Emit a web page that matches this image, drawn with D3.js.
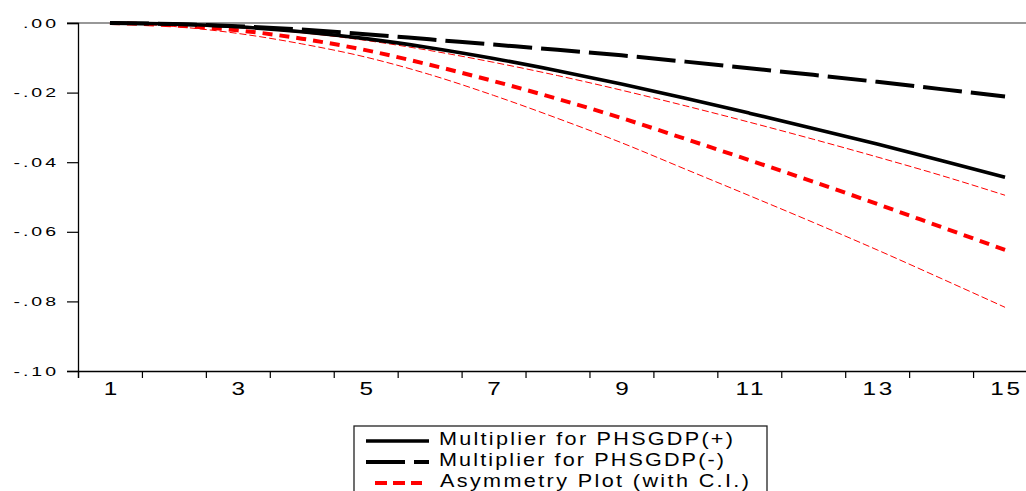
<!DOCTYPE html>
<html>
<head>
<meta charset="utf-8">
<script src="https://cdn.jsdelivr.net/npm/d3@7"></script>
<style>
  html, body { margin: 0; padding: 0; background: #fff; overflow: hidden; }
  svg { display: block; }
  text { font-family: "Liberation Sans", Arial, sans-serif; fill: #000; }
</style>
</head>
<body>
<svg id="chart" width="1026" height="491"></svg>
<script>
// ---- data ----
const periods = [1,2,3,4,5,6,7,8,9,10,11,12,13,14,15];
const multPos = [0, -0.0003, -0.0011, -0.0025, -0.0045, -0.0071, -0.0102, -0.0137, -0.0175, -0.0216, -0.0259, -0.0303, -0.0348, -0.0395, -0.0443];
const multNeg = [0, -0.0003, -0.0009, -0.0019, -0.0032, -0.0047, -0.0062, -0.0077, -0.0093, -0.0111, -0.0130, -0.0149, -0.0169, -0.0190, -0.0211];
const asym    = [0, -0.0007, -0.0021, -0.0045, -0.0078, -0.0120, -0.0167, -0.0218, -0.0273, -0.0333, -0.0394, -0.0456, -0.0520, -0.0586, -0.0652];
const ciUpper = [0, -0.0004, -0.0013, -0.0028, -0.0050, -0.0079, -0.0113, -0.0151, -0.0193, -0.0238, -0.0285, -0.0334, -0.0385, -0.0438, -0.0495];
const ciLower = [0, -0.0010, -0.0030, -0.0060, -0.0098, -0.0148, -0.0208, -0.0274, -0.0344, -0.0420, -0.0496, -0.0573, -0.0652, -0.0734, -0.0817];
const yTicks = [0, -0.02, -0.04, -0.06, -0.08, -0.10];
const yTickLabels = [".00", "-.02", "-.04", "-.06", "-.08", "-.10"];
const xTickLabels = [1, 3, 5, 7, 9, 11, 13, 15];
const legendLabels = ["Multiplier for PHSGDP(+)", "Multiplier for PHSGDP(-)", "Asymmetry Plot (with C.I.)"];

// ---- layout ----
const svg = d3.select("#chart");
const plotLeft = 78, plotTop = 23, plotBottom = 371, plotRightEnd = 1037;
const x = d3.scaleLinear().domain([0.5, 15.5]).range([plotLeft, plotRightEnd]);
const y = d3.scaleLinear().domain([-0.10, 0]).range([plotBottom, plotTop]);

// top frame line
svg.append("line").attr("x1", 67).attr("x2", 1026).attr("y1", plotTop).attr("y2", plotTop)
  .attr("stroke", "#333").attr("stroke-width", 1.2);

// y axis
const yAxis = svg.append("g").attr("transform", `translate(${plotLeft},0)`)
  .call(d3.axisLeft(y).tickValues(yTicks).tickSize(11).tickPadding(10)
    .tickFormat((d, i) => yTickLabels[i]));
yAxis.select(".domain").attr("stroke", "#000").attr("stroke-width", 1.3);
yAxis.selectAll(".tick line").attr("stroke", "#000").attr("stroke-width", 1.2);
yAxis.selectAll("text").each(function() {
  const t = d3.select(this);
  const tx = +t.attr("x");
  t.attr("x", 0).attr("font-size", 13).attr("font-family", "Liberation Sans, Arial, sans-serif")
    .attr("letter-spacing", 2).attr("transform", `translate(${tx + 2},0) scale(1.5,1)`);
});

// x axis: ticks at band boundaries
const xTickVals = d3.range(0.5, 15.6, 1);
const xAxisTicks = svg.append("g").attr("transform", `translate(0,${plotBottom})`)
  .call(d3.axisBottom(x).tickValues(xTickVals).tickSize(7).tickFormat(""));
xAxisTicks.select(".domain").attr("stroke", "#000").attr("stroke-width", 1.3);
xAxisTicks.selectAll(".tick line").attr("stroke", "#000").attr("stroke-width", 1.2);

const xAxisLabels = svg.append("g").attr("transform", `translate(0,${plotBottom})`)
  .call(d3.axisBottom(x).tickValues(xTickLabels).tickSize(0).tickPadding(11).tickFormat(d3.format("d")));
xAxisLabels.select(".domain").remove();
xAxisLabels.selectAll("text").attr("font-size", 18).attr("font-family", "Liberation Sans, Arial, sans-serif")
  .attr("letter-spacing", d => d >= 10 ? 2 : 0)
  .attr("transform", d => `translate(${d >= 10 ? 1 : 0},0) scale(1.35,1)`);

// ---- series ----
const line = d3.line().x((d, i) => x(periods[i])).y(d => y(d)).curve(d3.curveMonotoneX);
const series = [
  { data: ciLower, color: "#ff0000", width: 1, dash: "7,3" },
  { data: ciUpper, color: "#ff0000", width: 1, dash: "7,3" },
  { data: asym,    color: "#ff0000", width: 4, dash: "10,7" },
  { data: multNeg, color: "#000", width: 4, dash: "39,9" },
  { data: multPos, color: "#000", width: 3.6, dash: null }
];
series.forEach(s => {
  svg.append("path").datum(s.data).attr("d", line)
    .attr("fill", "none").attr("stroke", s.color).attr("stroke-width", s.width)
    .attr("stroke-dasharray", s.dash).attr("stroke-linejoin", "round");
});

// ---- legend ----
const lg = svg.append("g");
lg.append("rect").attr("x", 354).attr("y", 426).attr("width", 413).attr("height", 80)
  .attr("fill", "#fff").attr("stroke", "#222").attr("stroke-width", 1.3);
const legendStyles = [
  { color: "#000", width: 3.6, dash: null, x1: 366, x2: 429, tx: 439, target: 294 },
  { color: "#000", width: 4, dash: "39,9", x1: 366, x2: 429, tx: 439, target: 285 },
  { color: "#ff0000", width: 4, dash: "12,6", x1: 375, x2: 422, tx: 440, target: 309 }
];
const sx = 1.2;
legendLabels.forEach((lab, i) => {
  const base = 445 + i * 21;
  const st = legendStyles[i];
  lg.append("line").attr("x1", st.x1).attr("x2", st.x2).attr("y1", base - 4).attr("y2", base - 4)
    .attr("stroke", st.color).attr("stroke-width", st.width).attr("stroke-dasharray", st.dash);
  const t = lg.append("text").attr("font-size", 18)
    .attr("transform", `translate(${st.tx},${base}) scale(${sx},1)`)
    .text(lab);
  const L = t.node().getComputedTextLength();
  const ls = (st.target / sx - L) / (lab.length - 1);
  t.attr("letter-spacing", ls.toFixed(2));
});
</script>
</body>
</html>
